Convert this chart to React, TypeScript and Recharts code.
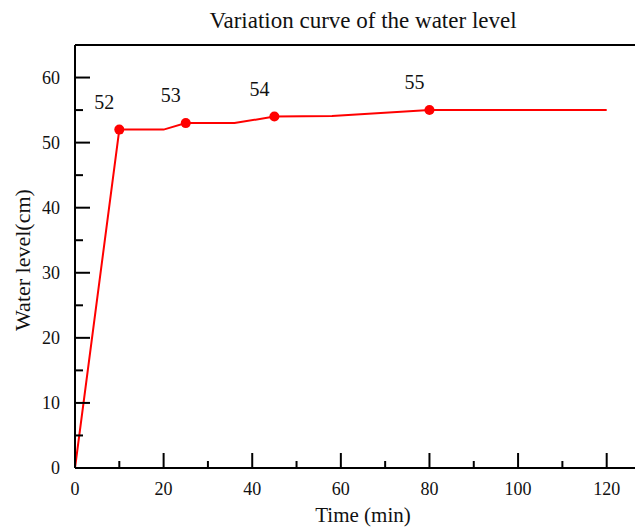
import React from "react";
import { ComposedChart, Line, Scatter, XAxis, YAxis } from "recharts";

// Water level readings over time
const timeMin = [0, 10, 20, 25, 36, 45, 58, 80, 120];
const levelCm = [0, 52, 52, 53, 53, 54, 54.1, 55, 55];

// Highlighted readings (drawn with a dot and a value label)
const markedTime = [10, 25, 45, 80];
const markedLevel = [52, 53, 54, 55];

// Axis ticks (majors are every 20 min / 10 cm, minors in between)
const xTicks = [0, 10, 20, 30, 40, 50, 60, 70, 80, 90, 100, 110, 120];
const yTicks = [0, 5, 10, 15, 20, 25, 30, 35, 40, 45, 50, 55, 60];

const lineData = timeMin.map((t, i) => ({ t, level: levelCm[i] }));
const markerData = markedTime.map((t, i) => ({ t, level: markedLevel[i] }));

const FONT = '"Liberation Serif", "Times New Roman", serif';
const RED = "#ff0000";
const INK = "#111111";

const LeftTick = (props: any) => {
  const { x, y, payload } = props;
  const major = payload.value % 10 === 0;
  return (
    <g>
      <line x1={x} y1={y} x2={x + (major ? 15 : 8)} y2={y} stroke="#000" strokeWidth={2} />
      {major && (
        <text x={x - 15} y={y} textAnchor="end" dominantBaseline="central" fontFamily={FONT} fontSize={18} fill={INK}>
          {payload.value}
        </text>
      )}
    </g>
  );
};

const RightTick = (props: any) => {
  const { x, y, payload } = props;
  const major = payload.value % 10 === 0;
  return <line x1={x} y1={y} x2={x - (major ? 10 : 5)} y2={y} stroke="#000" strokeWidth={2} />;
};

const BottomTick = (props: any) => {
  const { x, y, payload } = props;
  const major = payload.value % 20 === 0;
  return (
    <g>
      <line x1={x} y1={y} x2={x} y2={y - (major ? 15 : 7)} stroke="#000" strokeWidth={2} />
      {major && (
        <text x={x} y={y + 21} textAnchor="middle" dominantBaseline="central" fontFamily={FONT} fontSize={18} fill={INK}>
          {payload.value}
        </text>
      )}
    </g>
  );
};

const TopTick = (props: any) => {
  const { x, y, payload } = props;
  const major = payload.value % 20 === 0;
  return <line x1={x} y1={y} x2={x} y2={y + (major ? 9 : 5)} stroke="#000" strokeWidth={2} />;
};

const MarkerShape = (props: any) => {
  const { cx, cy, payload } = props;
  return (
    <g>
      <circle cx={cx} cy={cy} r={5} fill={RED} />
      <text x={cx - 15} y={cy - 28} textAnchor="middle" dominantBaseline="central" fontFamily={FONT} fontSize={20} fill={INK}>
        {payload.level}
      </text>
    </g>
  );
};

const axisLine = { stroke: "#000", strokeWidth: 2 };

export default function App() {
  return (
    <div style={{ position: "relative", width: 635, height: 520, overflow: "hidden", background: "#fff" }}>
      <ComposedChart width={700} height={520} margin={{ top: 36, right: 56, bottom: 30, left: 27 }}>
        <XAxis
          xAxisId="b"
          dataKey="t"
          type="number"
          domain={[0, 130]}
          ticks={xTicks}
          orientation="bottom"
          height={30}
          tickSize={0}
          tickMargin={0}
          tickLine={false}
          axisLine={axisLine}
          tick={<BottomTick />}
          interval={0}
        />
        <XAxis
          xAxisId="t"
          dataKey="t"
          type="number"
          domain={[0, 130]}
          ticks={xTicks}
          orientation="top"
          height={1}
          tickSize={0}
          tickMargin={0}
          tickLine={false}
          axisLine={axisLine}
          tick={<TopTick />}
          interval={0}
        />
        <YAxis
          yAxisId="l"
          type="number"
          domain={[0, 65]}
          ticks={yTicks}
          orientation="left"
          width={40}
          tickSize={0}
          tickMargin={0}
          tickLine={false}
          axisLine={axisLine}
          tick={<LeftTick />}
          interval={0}
        />
        <YAxis
          yAxisId="r"
          type="number"
          domain={[0, 65]}
          ticks={yTicks}
          orientation="right"
          width={1}
          tickSize={0}
          tickMargin={0}
          tickLine={false}
          axisLine={axisLine}
          tick={<RightTick />}
          interval={0}
        />
        <Line
          xAxisId="b"
          yAxisId="l"
          data={lineData}
          dataKey="level"
          type="linear"
          stroke={RED}
          strokeWidth={2}
          dot={false}
          activeDot={false}
          isAnimationActive={false}
        />
        <Scatter
          xAxisId="b"
          yAxisId="l"
          data={markerData}
          dataKey="level"
          shape={<MarkerShape />}
          isAnimationActive={false}
        />
      </ComposedChart>
      <div
        style={{
          position: "absolute",
          left: 355,
          top: 13,
          transform: "translate(-50%, -50%)",
          whiteSpace: "nowrap",
          fontFamily: FONT,
          fontSize: 23,
          lineHeight: "24px",
          color: INK,
        }}
      >
        Variation curve of the water level
      </div>
      <div
        style={{
          position: "absolute",
          left: 355,
          top: 507,
          transform: "translate(-50%, -50%)",
          whiteSpace: "nowrap",
          fontFamily: FONT,
          fontSize: 21,
          color: INK,
        }}
      >
        Time (min)
      </div>
      <div
        style={{
          position: "absolute",
          left: 15,
          top: 252,
          transform: "translate(-50%, -50%) rotate(-90deg)",
          whiteSpace: "nowrap",
          fontFamily: FONT,
          fontSize: 22,
          color: INK,
        }}
      >
        Water level(cm)
      </div>
    </div>
  );
}
